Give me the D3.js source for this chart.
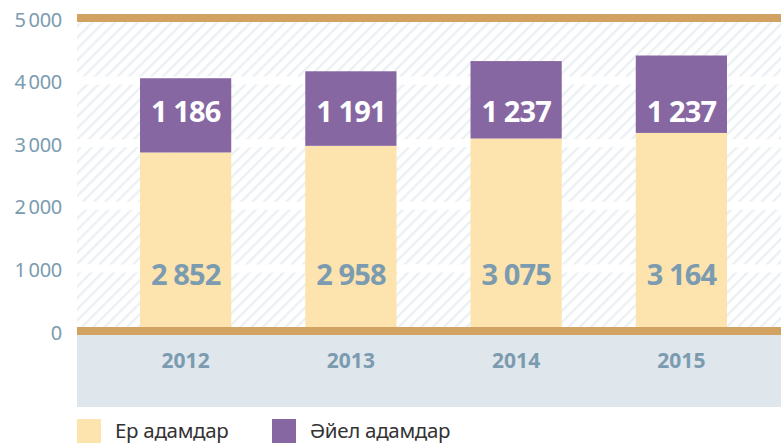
<!DOCTYPE html>
<html><head><meta charset="utf-8">
<script src="https://cdn.jsdelivr.net/npm/d3@7"></script>
<style>
html,body{margin:0;padding:0;background:#fff;}
svg{display:block;}
</style></head>
<body>
<svg id="chart" width="781" height="443"></svg>
<script>
const years = ["2012","2013","2014","2015"];
const men = [2852, 2958, 3075, 3164];
const women = [1186, 1191, 1237, 1237];
const yTicks = [0, 1000, 2000, 3000, 4000, 5000];
const seriesNames = ["Ер адамдар", "Әйел адамдар"];
const colors = ["#fde3ad", "#8767a2"];

const fmt = (v, sep) => {
  const s = String(v);
  return s.length > 3 ? s.slice(0, s.length - 3) + sep + s.slice(-3) : s;
};

const svg = d3.select("#chart");
const left = 77, right = 781;
const y = d3.scaleLinear().domain([0, 5000]).range([331, 18]);
const x = d3.scaleBand().domain(years).range([103, 764]).paddingInner(0.448).paddingOuter(0.224);

const defs = svg.append("defs");
const pat = defs.append("pattern").attr("id", "hatch").attr("patternUnits", "userSpaceOnUse")
  .attr("width", 8).attr("height", 8).attr("patternTransform", "rotate(45)");
pat.append("rect").attr("width", 8).attr("height", 8).attr("fill", "#ffffff");
pat.append("rect").attr("x", 0).attr("y", 0).attr("width", 2.4).attr("height", 8).attr("fill", "#ebf0f4");

// hatched background
svg.append("rect").attr("x", left).attr("y", y(5000)).attr("width", right - left)
  .attr("height", y(0) - y(5000)).attr("fill", "url(#hatch)");

// white gridlines
svg.selectAll("line.grid").data(yTicks.filter(d => d > 0 && d < 5000)).join("line")
  .attr("class", "grid").attr("x1", left).attr("x2", right)
  .attr("y1", d => y(d)).attr("y2", d => y(d))
  .attr("stroke", "#ffffff").attr("stroke-width", 8);

// bottom gray band
svg.append("rect").attr("x", left).attr("y", y(0)).attr("width", right - left)
  .attr("height", 407 - y(0)).attr("fill", "#dfe6ec");

// bars
const stack = years.map((yr, i) => ({ yr, m: men[i], w: women[i] }));
svg.selectAll("rect.men").data(stack).join("rect").attr("class", "men")
  .attr("x", d => x(d.yr)).attr("width", x.bandwidth())
  .attr("y", d => y(d.m)).attr("height", d => y(0) - y(d.m)).attr("fill", colors[0]);
svg.selectAll("rect.women").data(stack).join("rect").attr("class", "women")
  .attr("x", d => x(d.yr)).attr("width", x.bandwidth())
  .attr("y", d => y(d.m + d.w)).attr("height", d => y(d.m) - y(d.m + d.w)).attr("fill", colors[1]);

// gold bands
[5000, 0].forEach(v => {
  svg.append("line").attr("x1", left).attr("x2", right).attr("y1", y(v)).attr("y2", y(v))
    .attr("stroke", "#d2a262").attr("stroke-width", 8);
});

const font = "'Noto Sans', 'Open Sans', sans-serif";
// value labels
svg.selectAll("text.wl").data(stack).join("text").attr("class", "wl")
  .attr("x", d => x(d.yr) + x.bandwidth() / 2).attr("y", 110)
  .attr("text-anchor", "middle").attr("dominant-baseline", "central")
  .attr("font-family", font).attr("font-weight", "bold").attr("font-size", 29)
  .attr("letter-spacing", -0.9).attr("fill", "#ffffff").text(d => fmt(d.w, " "));
svg.selectAll("text.ml").data(stack).join("text").attr("class", "ml")
  .attr("x", d => x(d.yr) + x.bandwidth() / 2).attr("y", 273)
  .attr("text-anchor", "middle").attr("dominant-baseline", "central")
  .attr("font-family", font).attr("font-weight", "bold").attr("font-size", 29)
  .attr("letter-spacing", -0.9).attr("fill", "#7b9bb0").text(d => fmt(d.m, " "));

// y axis labels
svg.selectAll("text.yt").data(yTicks).join("text").attr("class", "yt")
  .attr("x", 62).attr("y", d => y(d) + 1).attr("text-anchor", "end")
  .attr("dominant-baseline", "central").attr("font-family", font)
  .attr("font-size", 20).attr("fill", "#7b9bb0").attr("letter-spacing", -0.3)
  .text(d => fmt(d, "\u2009"));

// x labels
svg.selectAll("text.xt").data(years).join("text").attr("class", "xt")
  .attr("x", d => x(d) + x.bandwidth() / 2).attr("y", 360)
  .attr("text-anchor", "middle").attr("dominant-baseline", "central")
  .attr("font-family", font).attr("font-weight", "bold").attr("font-size", 21)
  .attr("fill", "#7b9bb0").text(d => d);

// legend
const legX = [77, 272];
seriesNames.forEach((n, i) => {
  svg.append("rect").attr("x", legX[i]).attr("y", 419).attr("width", 24).attr("height", 24).attr("fill", colors[i]);
  svg.append("text").attr("x", legX[i] + 38).attr("y", 438).attr("font-family", font)
    .attr("font-size", 20.5).attr("letter-spacing", -0.3).attr("fill", "#333333").text(n);
});
</script>
</body></html>
